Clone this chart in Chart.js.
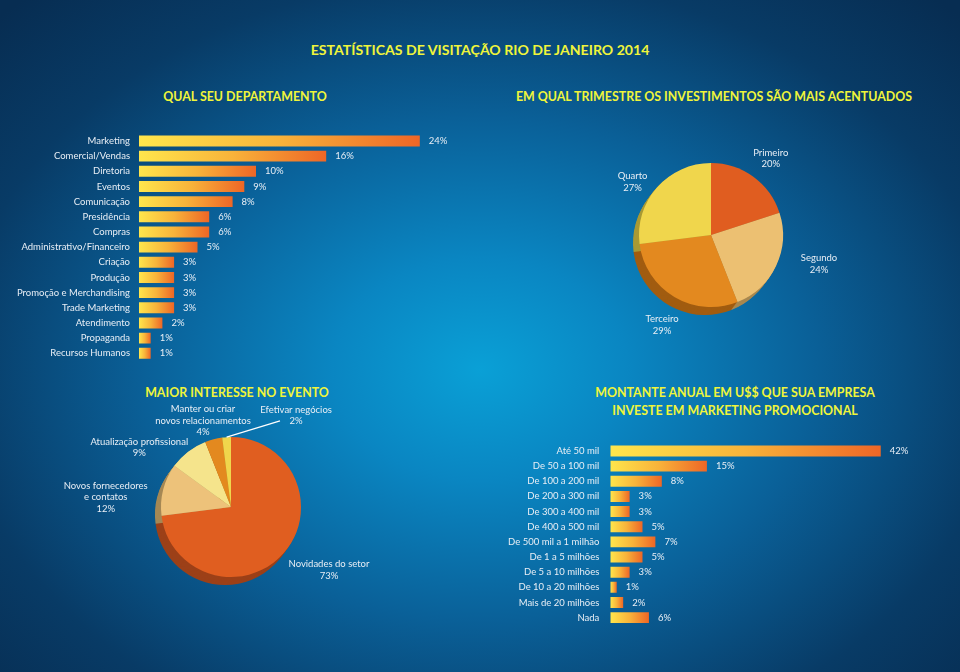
<!DOCTYPE html>
<html>
<head>
<meta charset="utf-8">
<script src="https://cdn.jsdelivr.net/npm/chart.js@4.4.1/dist/chart.umd.min.js"></script>
<style>
  body {
    margin: 0;
    width: 960px;
    height: 672px;
    overflow: hidden;
    position: relative;
    font-family: Lato, sans-serif;
    background: radial-gradient(ellipse 70% 75% at 50% 55%, #0aa0d6 0%, #0a86c2 22%, #0a6098 50%, #083b66 78%, #072d52 100%);
  }
  .title {
    position: absolute;
    color: #f0f53a;
    font-weight: bold;
    font-size: 12.4px;
    white-space: nowrap;
    text-align: center;
    transform: translateX(-50%);
    line-height: 18px;
  }
  .main { font-size: 14.1px; }
  canvas { position: absolute; }
</style>
</head>
<body>
<div class="title main" style="left:480px; top:41px;">ESTATÍSTICAS DE VISITAÇÃO RIO DE JANEIRO 2014</div>
<div class="title" style="left:245px; top:88px;">QUAL SEU DEPARTAMENTO</div>
<div class="title" style="left:714px; top:88px;">EM QUAL TRIMESTRE OS INVESTIMENTOS SÃO MAIS ACENTUADOS</div>
<div class="title" style="left:237px; top:384px;">MAIOR INTERESSE NO EVENTO</div>
<div class="title" style="left:735px; top:384px;">MONTANTE ANUAL EM U$$ QUE SUA EMPRESA<br>INVESTE EM MARKETING PROMOCIONAL</div>

<canvas id="deptChart" width="470" height="235" style="left:0; top:130px;"></canvas>
<canvas id="quarterChart" width="260" height="220" style="left:600px; top:130px;"></canvas>
<canvas id="interestChart" width="360" height="200" style="left:20px; top:395px;"></canvas>
<canvas id="budgetChart" width="460" height="190" style="left:480px; top:440px;"></canvas>

<script>
// departamentos
const deptLabels = ["Marketing", "Comercial/Vendas", "Diretoria", "Eventos", "Comunicação", "Presidência",
  "Compras", "Administrativo/Financeiro", "Criação", "Produção", "Promoção e Merchandising",
  "Trade Marketing", "Atendimento", "Propaganda", "Recursos Humanos"];
const deptValues = [24, 16, 10, 9, 8, 6, 6, 5, 3, 3, 3, 3, 2, 1, 1];

// trimestres
const quarterLabels = ["Primeiro", "Segundo", "Terceiro", "Quarto"];
const quarterValues = [20, 24, 29, 27];

// interesse no evento
const interestLabels = [["Novidades do setor"], ["Novos fornecedores", "e contatos"],
  ["Atualização profissional"], ["Manter ou criar", "novos relacionamentos"], ["Efetivar negócios"]];
const interestValues = [73, 12, 9, 4, 2];

// montante anual
const budgetLabels = ["Até 50 mil", "De 50 a 100 mil", "De 100 a 200 mil", "De 200 a 300 mil",
  "De 300 a 400 mil", "De 400 a 500 mil", "De 500 mil a 1 milhão", "De 1 a 5 milhões",
  "De 5 a 10 milhões", "De 10 a 20 milhões", "Mais de 20 milhões", "Nada"];
const budgetValues = [42, 15, 8, 3, 3, 5, 7, 5, 3, 1, 2, 6];

const textColor = "#e8eef5";
const fontFamily = "Lato";

// cada barra vai do amarelo ao laranja
function barGradient(ctx) {
  const chart = ctx.chart;
  const x = chart.scales.x;
  if (!x || ctx.raw == null) return "#f39a2e";
  const x0 = x.getPixelForValue(0);
  const x1 = x.getPixelForValue(ctx.raw);
  if (!isFinite(x0) || !isFinite(x1) || x1 <= x0) return "#f39a2e";
  const g = chart.ctx.createLinearGradient(x0, 0, x1, 0);
  g.addColorStop(0, "#ffe64c");
  g.addColorStop(0.5, "#f8b33a");
  g.addColorStop(1, "#ee6626");
  return g;
}

const barValueLabels = {
  id: "barValueLabels",
  afterDatasetsDraw(chart, args, opts) {
    const c = chart.ctx;
    const values = chart.data.datasets[0].data;
    c.save();
    c.font = "9.5px " + fontFamily;
    c.fillStyle = textColor;
    c.textAlign = "left";
    c.textBaseline = "middle";
    chart.getDatasetMeta(0).data.forEach((bar, i) => {
      c.fillText(values[i] + "%", bar.x + opts.gap, bar.y);
    });
    c.restore();
  }
};

function barChart(id, labels, values, o) {
  return new Chart(document.getElementById(id), {
    type: "bar",
    data: {
      labels: labels,
      datasets: [{
        data: values,
        backgroundColor: barGradient,
        borderWidth: 0,
        barPercentage: 0.72,
        categoryPercentage: 1
      }]
    },
    options: {
      indexAxis: "y",
      responsive: false,
      animation: false,
      layout: { padding: o.padding },
      plugins: {
        legend: { display: false },
        tooltip: { enabled: false },
        barValueLabels: { gap: o.gap }
      },
      scales: {
        x: { display: false, min: 0, max: o.max },
        y: {
          grid: { display: false, drawTicks: false },
          border: { display: false },
          ticks: { color: textColor, font: { family: fontFamily, size: 9.5 }, padding: o.tickPad, autoSkip: false },
          afterFit: s => {
            s.width = o.axisWidth;
            s.paddingTop = 0;
            s.paddingBottom = 0;
          }
        }
      }
    },
    plugins: [barValueLabels]
  });
}

// lado "3D" da pizza, desenhado por baixo das fatias
const pieSide = {
  id: "pieSide",
  beforeDatasetsDraw(chart, args, opts) {
    const c = chart.ctx;
    const steps = 8;
    chart.getDatasetMeta(0).data.forEach((arc, i) => {
      const p = arc.getProps(["x", "y", "startAngle", "endAngle", "outerRadius"]);
      c.fillStyle = opts.colors[i];
      for (let k = steps; k >= 1; k--) {
        const ox = p.x + opts.dx * k / steps, oy = p.y + opts.dy * k / steps;
        c.beginPath();
        c.moveTo(ox, oy);
        c.arc(ox, oy, p.outerRadius, p.startAngle, p.endAngle);
        c.closePath();
        c.fill();
      }
    });
  }
};

const pieLabels = {
  id: "pieLabels",
  afterDatasetsDraw(chart, args, opts) {
    const c = chart.ctx;
    const meta = chart.getDatasetMeta(0);
    const values = chart.data.datasets[0].data;
    const labels = chart.data.labels;
    const first = meta.data[0];
    const cx = first.x, cy = first.y, r = first.outerRadius;
    c.save();
    c.font = "9.5px " + fontFamily;
    c.fillStyle = textColor;
    c.textAlign = "center";
    c.textBaseline = "middle";
    opts.spots.forEach(([fx, fy], i) => {
      const lines = [].concat(labels[i], values[i] + "%");
      const lx = cx + fx * r, ly = cy + fy * r;
      lines.forEach((ln, k) => c.fillText(ln, lx, ly + (k - (lines.length - 1) / 2) * opts.lineHeight));
    });
    if (opts.leader) {
      const arc = meta.data[opts.leader.index];
      const mid = (arc.startAngle + arc.endAngle) / 2;
      c.strokeStyle = "#ffffff";
      c.lineWidth = 1.2;
      c.beginPath();
      c.moveTo(cx + opts.leader.from[0] * r, cy + opts.leader.from[1] * r);
      c.lineTo(cx + Math.cos(mid) * r, cy + Math.sin(mid) * r);
      c.stroke();
    }
    c.restore();
  }
};

function pieChart(id, labels, values, o) {
  return new Chart(document.getElementById(id), {
    type: "pie",
    data: {
      labels: labels,
      datasets: [{ data: values, backgroundColor: o.colors, borderWidth: 0, hoverOffset: 0 }]
    },
    options: {
      responsive: false,
      animation: false,
      radius: o.radius,
      layout: { padding: o.padding },
      plugins: {
        legend: { display: false },
        tooltip: { enabled: false },
        pieSide: { colors: o.sideColors, dx: -6, dy: 8 },
        pieLabels: { spots: o.spots, lineHeight: 11.5, leader: o.leader }
      }
    },
    plugins: [pieSide, pieLabels]
  });
}

barChart("deptChart", deptLabels, deptValues, {
  padding: { top: 3.4, bottom: 4.1, left: 0, right: 0 },
  max: 28.29, axisWidth: 139, tickPad: 9, gap: 9
});

barChart("budgetChart", budgetLabels, budgetValues, {
  padding: { top: 3.4, bottom: 4.8, left: 0, right: 0 },
  max: 51.2, axisWidth: 130.3, tickPad: 11, gap: 9
});

pieChart("quarterChart", quarterLabels, quarterValues, {
  radius: 72,
  padding: { left: 39, right: 77, top: 33, bottom: 43 },
  colors: ["#e05d20", "#ecc072", "#e3891f", "#f0d64c"],
  sideColors: ["#9c4018", "#a88850", "#a15c10", "#a99a35"],
  spots: [[0.83, -1.06], [1.5, 0.40], [-0.68, 1.25], [-1.09, -0.74]]
});

pieChart("interestChart", interestLabels, interestValues, {
  radius: 70,
  padding: { left: 141, right: 79, top: 42, bottom: 18 },
  colors: ["#e05e20", "#edc27a", "#f5e48c", "#e3891f", "#f0d64c"],
  sideColors: ["#9c4018", "#a58855", "#aaa060", "#a15c10", "#a99a35"],
  spots: [[1.4, 0.9], [-1.79, -0.14], [-1.31, -0.85], [-0.40, -1.23], [0.93, -1.31]],
  leader: { index: 4, from: [0.70, -1.23] }
});
</script>
</body>
</html>
